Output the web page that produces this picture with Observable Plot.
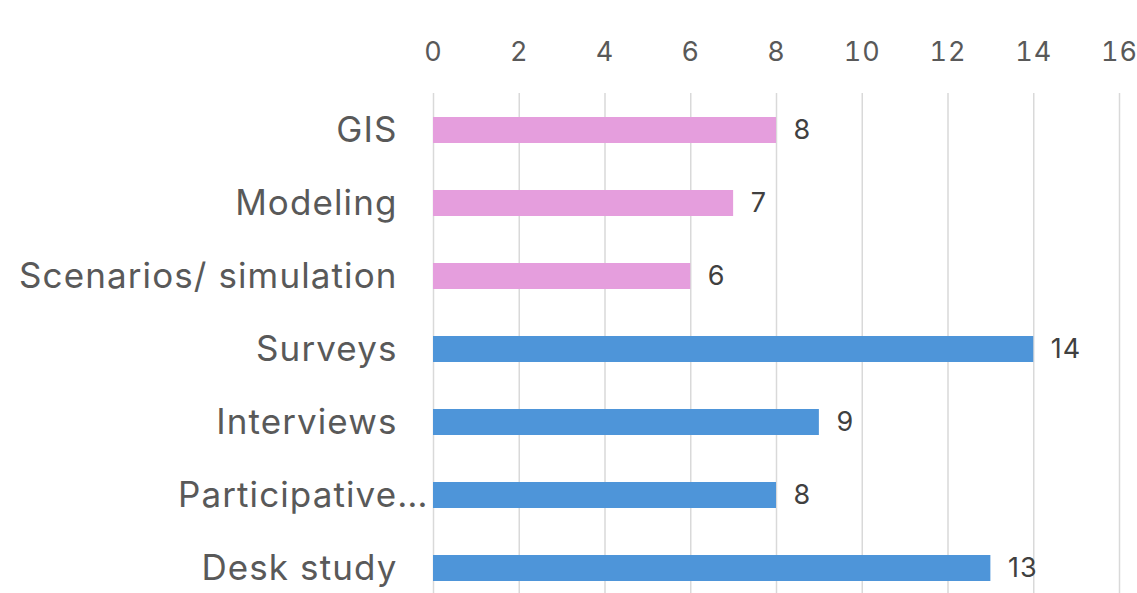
<!DOCTYPE html>
<html>
<head>
<meta charset="utf-8">
<script src="https://cdn.jsdelivr.net/npm/d3@7"></script>
<script src="https://cdn.jsdelivr.net/npm/@observablehq/plot@0.6"></script>
<style>
  html, body { margin: 0; padding: 0; background: #fff; }
  #chart svg { display: block; }
  #chart svg text { letter-spacing: 1.1px; }
</style>
</head>
<body>
<div id="chart"></div>
<script>
const categories = ["GIS", "Modeling", "Scenarios/ simulation", "Surveys", "Interviews", "Participative\u2026", "Desk study"];
const values = [8, 7, 6, 14, 9, 8, 13];
const groups = ["tool", "tool", "tool", "method", "method", "method", "method"];
const xTicks = [0, 2, 4, 6, 8, 10, 12, 14, 16];

const data = categories.map((c, i) => ({category: c, value: values[i], group: groups[i]}));
const FONT = "Inter, 'Open Sans', sans-serif";

const chart = Plot.plot({
  width: 1137,
  height: 593,
  marginLeft: 433,
  marginRight: 18,
  marginTop: 93,
  marginBottom: 0,
  style: {fontFamily: FONT, background: "#fff"},
  x: {domain: [0, 16], ticks: xTicks, axis: null},
  y: {domain: categories, range: [93, 604], paddingInner: 0.644, paddingOuter: 0.322, axis: null},
  color: {domain: ["tool", "method"], range: ["#E59EDD", "#4E95D9"]},
  marks: [
    Plot.ruleX(xTicks, {stroke: "#D9D9D9", strokeWidth: 1.5}),
    Plot.axisX({anchor: "top", ticks: xTicks, tickSize: 0, tickPadding: 33, fontSize: 27, fill: "#595959", label: null}),
    Plot.barX(data, {x: "value", y: "category", fill: "group"}),
    Plot.text(data, {x: "value", y: "category", text: d => String(d.value), dx: 17, textAnchor: "start", fontSize: 27, fill: "#404040"}),
    Plot.text(data.filter(d => !d.category.startsWith("Participative")), {x: 0, y: "category", text: "category", dx: -36, textAnchor: "end", fontSize: 35, fill: "#595959"}),
    Plot.text(data.filter(d => d.category.startsWith("Participative")), {x: 0, y: "category", text: "category", dx: -5, textAnchor: "end", fontSize: 35, fill: "#595959"})
  ]
});
document.getElementById("chart").appendChild(chart);
</script>
</body>
</html>
